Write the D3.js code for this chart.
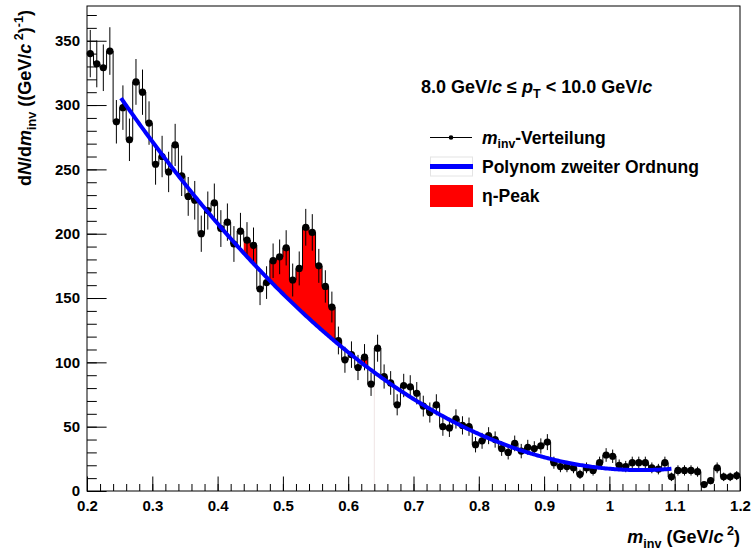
<!DOCTYPE html>
<html>
<head>
<meta charset="utf-8">
<script src="https://cdn.jsdelivr.net/npm/d3@7"></script>
<style>
  body { margin: 0; background: #fff; }
  svg { font-family: "Liberation Sans", Arial, Helvetica, sans-serif; }
  text { white-space: pre; }
</style>
</head>
<body>
<svg id="chart" width="753" height="554"></svg>
<script>
// invariant mass histogram, 100 bins of 0.01 GeV/c^2 starting at 0.2
var histMin = 0.2, binWidth = 0.01;
var counts = [
  340, 332, 329, 342, 287, 298, 273, 318, 310, 286,
  254, 260, 248, 269, 245, 229, 226, 200, 218, 224,
  204, 209, 192, 202, 195, 191, 157, 162, 179, 182,
  189, 164, 173, 205, 201, 175, 159, 143, 117, 102,
  106, 96, 104, 83, 111, 89, 84, 67, 82, 81,
  76, 66, 61, 67, 50, 49, 56, 51, 50, 36,
  39, 43, 40, 33, 30, 37, 31, 34, 33, 35,
  38, 22, 19, 19, 18, 13, 18, 16, 22, 28,
  27, 20, 19, 22, 22, 22, 18, 17, 22, 11,
  16, 16, 16, 15, 5, 8, 18, 11, 11, 12
];
var errors = [
  18.4, 18.2, 18.1, 18.5, 16.9, 17.3, 16.5, 17.8, 17.6, 16.9,
  15.9, 16.1, 15.7, 16.4, 15.7, 15.1, 15.0, 14.1, 14.8, 15.0,
  14.3, 14.5, 13.9, 14.2, 14.0, 13.8, 12.5, 12.7, 13.4, 13.5,
  13.7, 12.8, 13.2, 14.3, 14.2, 13.2, 12.6, 12.0, 10.8, 10.1,
  10.3, 9.8, 10.2, 9.1, 10.5, 9.4, 9.2, 8.2, 9.1, 9.0,
  8.7, 8.1, 7.8, 8.2, 7.1, 7.0, 7.5, 7.1, 7.1, 6.0,
  6.2, 6.6, 6.3, 5.7, 5.5, 6.1, 5.6, 5.8, 5.7, 5.9,
  6.2, 4.7, 4.4, 4.4, 4.2, 3.6, 4.2, 4.0, 4.7, 5.3,
  5.2, 4.5, 4.4, 4.7, 4.7, 4.7, 4.2, 4.1, 4.7, 3.3,
  4.0, 4.0, 4.0, 3.9, 2.2, 2.8, 4.2, 3.3, 3.3, 3.5
];
// 2nd order polynomial background p0 + p1*x + p2*x^2
var fitCoeffs = [517.6, -956.9, 456.6];
var fitRange = [0.252, 1.095];
var peakRange = [0.44, 0.64];

var xTicks = [0.2, 0.3, 0.4, 0.5, 0.6, 0.7, 0.8, 0.9, 1.0, 1.1, 1.2];
var yTicks = [0, 50, 100, 150, 200, 250, 300, 350];
var xDomain = [0.2, 1.2], yDomain = [0, 377];

var svg = d3.select("#chart");
var L = 87, R = 740, T = 6, B = 491;

var x = d3.scaleLinear().domain(xDomain).range([L, R]);
var y = d3.scaleLinear().domain(yDomain).range([B, T]);

var bins = counts.map(function (c, i) {
  var lo = histMin + i * binWidth;
  return { lo: lo, hi: lo + binWidth, mid: lo + binWidth / 2, c: c, e: errors[i] };
});

function poly(v) { return fitCoeffs[0] + fitCoeffs[1] * v + fitCoeffs[2] * v * v; }

// rich text helper: italic / sub / sup pieces
function rich(t, parts, size) {
  var cur = 0;
  parts.forEach(function (p) {
    var off = p.sub ? size * 0.28 : p.sup ? -size * 0.42 : 0;
    var ts = t.append("tspan").attr("dy", off - cur).text(p.t);
    cur = off;
    if (p.it) ts.attr("font-style", "italic");
    if (p.sub || p.sup) ts.attr("font-size", size * 0.7);
  });
}

// eta peak: histogram above the polynomial inside peakRange
var peakPts = [];
bins.filter(function (b) { return b.lo >= peakRange[0] - 1e-9 && b.hi <= peakRange[1] + 1e-9; })
  .forEach(function (b) {
    d3.range(0, 11).forEach(function (k) {
      var v = b.lo + k * binWidth / 10;
      peakPts.push({ x: v, y0: poly(v), y1: Math.max(b.c, poly(v)) });
    });
  });
svg.append("path")
  .datum(peakPts)
  .attr("fill", "#ff0000")
  .attr("d", d3.area().x(function (d) { return x(d.x); })
    .y0(function (d) { return y(d.y0); }).y1(function (d) { return y(d.y1); }));

svg.append("line")
  .attr("x1", x(peakRange[1])).attr("x2", x(peakRange[1]))
  .attr("y1", y(poly(peakRange[1]))).attr("y2", y(0))
  .attr("stroke", "#efe4e4").attr("stroke-width", 1);

// axes (ticks point inwards, ROOT style)
var xMinor = d3.range(0, 51).map(function (i) { return 0.2 + i * 0.02; });
var yMinor = d3.range(0, 38).map(function (i) { return i * 10; });
var fmtX = function (d) { return String(+d.toFixed(1)); };

svg.append("g").attr("transform", "translate(0," + B + ")")
  .call(d3.axisBottom(x).tickValues(xMinor).tickSize(-7).tickFormat(""))
  .call(function (g) { g.select(".domain").remove(); });
svg.append("g").attr("transform", "translate(0," + B + ")")
  .call(d3.axisBottom(x).tickValues(xTicks).tickSize(-14.5).tickPadding(9).tickFormat(fmtX))
  .call(function (g) {
    g.select(".domain").remove();
    g.selectAll("text").attr("font-size", 15).attr("font-weight", "bold").attr("fill", "#000")
      .attr("font-family", "Liberation Sans, Arial, sans-serif");
  });
svg.append("g").attr("transform", "translate(" + L + ",0)")
  .call(d3.axisLeft(y).tickValues(yMinor).tickSize(-9.8).tickFormat(""))
  .call(function (g) { g.select(".domain").remove(); });
svg.append("g").attr("transform", "translate(" + L + ",0)")
  .call(d3.axisLeft(y).tickValues(yTicks).tickSize(-19.6).tickPadding(7))
  .call(function (g) {
    g.select(".domain").remove();
    g.selectAll("text").attr("font-size", 15).attr("font-weight", "bold").attr("fill", "#000")
      .attr("font-family", "Liberation Sans, Arial, sans-serif");
  });
svg.selectAll(".tick line").attr("stroke", "#000");

// histogram outline
var stepData = bins.map(function (b) { return [b.lo, b.c]; });
stepData.push([xDomain[1], counts[counts.length - 1]]);
svg.append("path")
  .datum(stepData)
  .attr("fill", "none").attr("stroke", "#000").attr("stroke-width", 1)
  .attr("d", d3.line().curve(d3.curveStepAfter)
    .x(function (d) { return x(d[0]); }).y(function (d) { return y(d[1]); }));

// error bars and markers
svg.append("g").selectAll("line").data(bins).join("line")
  .attr("x1", function (d) { return x(d.mid); }).attr("x2", function (d) { return x(d.mid); })
  .attr("y1", function (d) { return y(d.c - d.e); }).attr("y2", function (d) { return y(d.c + d.e); })
  .attr("stroke", "#000").attr("stroke-width", 1);
svg.append("g").selectAll("circle").data(bins).join("circle")
  .attr("cx", function (d) { return x(d.mid); }).attr("cy", function (d) { return y(d.c); })
  .attr("r", 3.6).attr("fill", "#000");

// polynomial
var fitX = d3.range(fitRange[0], fitRange[1], 0.002).concat([fitRange[1]]);
svg.append("path")
  .datum(fitX)
  .attr("fill", "none").attr("stroke", "#0000ff").attr("stroke-width", 4)
  .attr("d", d3.line().x(function (d) { return x(d); }).y(function (d) { return y(poly(d)); }));

// frame
svg.append("rect").attr("x", L).attr("y", T).attr("width", R - L).attr("height", B - T)
  .attr("fill", "none").attr("stroke", "#000").attr("stroke-width", 1);

// axis titles
var yt = svg.append("text")
  .attr("transform", "translate(31,10) rotate(-90)")
  .attr("text-anchor", "end").attr("font-size", 18).attr("font-weight", "bold");
rich(yt, [{ t: "d" }, { t: "N", it: 1 }, { t: "/d" }, { t: "m", it: 1 }, { t: "inv", sub: 1 },
  { t: " ((GeV/" }, { t: "c", it: 1 }, { t: " 2", sup: 1 }, { t: ")" }, { t: "-1", sup: 1 }, { t: ")" }], 18);

var xt = svg.append("text")
  .attr("x", 740).attr("y", 543)
  .attr("text-anchor", "end").attr("font-size", 18).attr("font-weight", "bold");
rich(xt, [{ t: "m", it: 1 }, { t: "inv", sub: 1 }, { t: " (GeV/" }, { t: "c", it: 1 }, { t: " 2", sup: 1 }, { t: ")" }], 18);

// legend
var lg = svg.append("g").attr("font-weight", "bold");
var ht = lg.append("text").attr("x", 421).attr("y", 93).attr("font-size", 18);
rich(ht, [{ t: "8.0 GeV/" }, { t: "c", it: 1 }, { t: " \u2264 " }, { t: "p", it: 1 }, { t: "T", sub: 1 },
  { t: " < 10.0 GeV/" }, { t: "c", it: 1 }], 18);

lg.append("line").attr("x1", 430).attr("x2", 472).attr("y1", 137.5).attr("y2", 137.5)
  .attr("stroke", "#000").attr("stroke-width", 1);
lg.append("circle").attr("cx", 451).attr("cy", 137.5).attr("r", 2.3).attr("fill", "#000");
var t1 = lg.append("text").attr("x", 482).attr("y", 143.5).attr("font-size", 17.5);
rich(t1, [{ t: "m", it: 1 }, { t: "inv", sub: 1 }, { t: "-Verteilung" }], 17.5);

lg.append("rect").attr("x", 430.5).attr("y", 157).attr("width", 42).attr("height", 19)
  .attr("fill", "#fff").attr("stroke", "#e4e4e4").attr("stroke-width", 1);
lg.append("line").attr("x1", 430).attr("x2", 473).attr("y1", 166.5).attr("y2", 166.5)
  .attr("stroke", "#0000ff").attr("stroke-width", 5);
lg.append("text").attr("x", 482).attr("y", 172.5).attr("font-size", 17.5).text("Polynom zweiter Ordnung");

lg.append("rect").attr("x", 430).attr("y", 185).attr("width", 43).attr("height", 22).attr("fill", "#ff0000");
lg.append("text").attr("x", 482).attr("y", 201.5).attr("font-size", 17.5).text("\u03b7-Peak");
</script>
</body>
</html>
